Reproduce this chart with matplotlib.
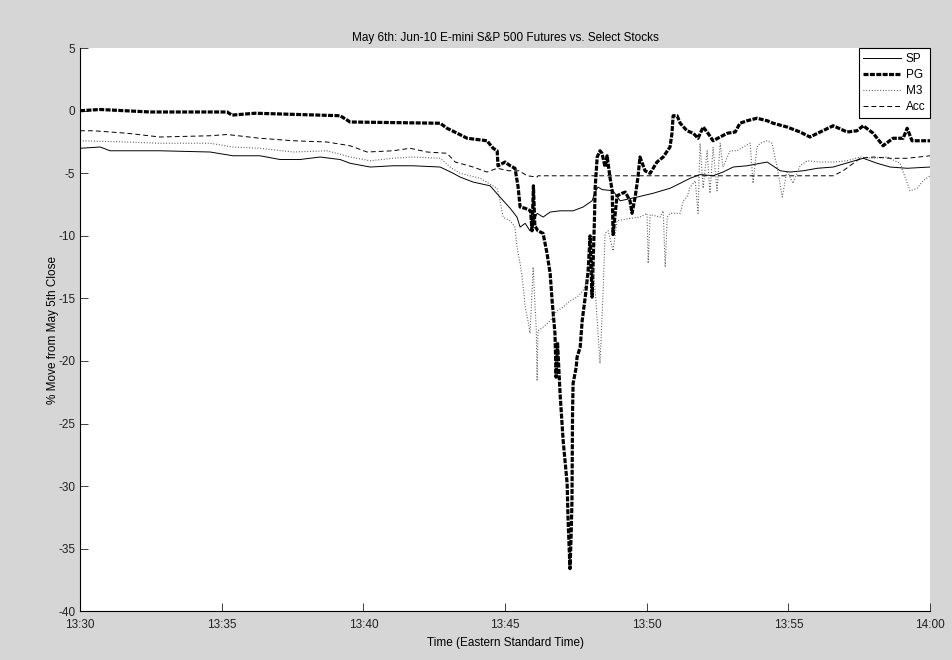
import matplotlib
matplotlib.use("Agg")
import matplotlib.pyplot as plt

plt.rcParams["font.family"] = ["Liberation Sans", "DejaVu Sans"]
plt.rcParams["axes.unicode_minus"] = False
plt.rcParams["lines.scale_dashes"] = False

# minutes after 13:30 and % move from May 5th close
pg_t = [0.00, 0.71, 2.47, 5.19, 5.36, 6.18, 9.18, 9.53, 12.71, 12.95, 13.31, 13.66, 14.36, 14.58,
        14.72, 14.75, 15.00, 15.18, 15.35, 15.46, 15.53, 15.71, 15.90, 15.95, 16.00, 16.05, 16.16,
        16.34, 16.48, 16.59, 16.66, 16.76, 16.80, 16.85, 16.94, 17.05, 17.19, 17.22, 17.29, 17.33,
        17.36, 17.38, 17.40, 17.51, 17.54, 17.65, 17.72, 17.85, 17.93, 18.00, 18.07, 18.15, 18.18,
        18.25, 18.35, 18.42, 18.53, 18.60, 18.70, 18.78, 18.81, 18.95, 19.13, 19.24, 19.41, 19.48,
        19.59, 19.69, 19.76, 19.94, 20.12, 20.36, 20.58, 20.82, 20.89, 20.93, 21.07, 21.18, 21.42,
        21.64, 21.81, 21.99, 22.16, 22.34, 22.59, 22.84, 23.12, 23.29, 23.54, 23.89, 24.25, 24.46,
        24.95, 25.41, 25.76, 26.12, 26.58, 27.07, 27.42, 27.64, 27.99, 28.34, 28.69, 29.05, 29.19,
        29.36, 30.00]
pg_v = [0.0, 0.1, -0.1, -0.1, -0.35, -0.2, -0.4, -0.9, -1.0, -1.4, -1.8, -2.2, -2.4, -3.0,
        -3.2, -4.4, -4.1, -4.4, -4.6, -6.1, -7.7, -7.8, -8.0, -9.6, -6.0, -9.2, -9.6,
        -9.8, -11.4, -13.0, -15.2, -17.8, -21.3, -18.5, -22.6, -26.4, -29.8, -32.5, -36.6, -34.0,
        -31.2, -24.2, -21.8, -20.5, -19.7, -18.9, -16.8, -14.5, -12.8, -10.0, -14.9, -9.0, -6.1,
        -3.7, -3.2, -3.4, -4.5, -3.6, -5.3, -6.4, -9.9, -6.8, -6.6, -6.5, -7.2, -8.2,
        -6.9, -5.3, -3.7, -4.8, -5.0, -4.1, -3.7, -2.9, -1.8, -0.4, -0.4, -1.0, -1.6,
        -1.8, -2.2, -1.3, -1.8, -2.4, -2.1, -1.8, -1.7, -1.0, -0.8, -0.6, -0.8, -1.0,
        -1.3, -1.7, -2.1, -1.7, -1.2, -1.7, -1.6, -1.2, -1.8, -2.8, -2.2, -2.2, -1.4,
        -2.4, -2.4]

sp_t = [0.00, 0.71, 1.06, 2.82, 4.59, 5.40, 6.35, 7.06, 7.76, 8.47, 9.18, 9.53, 10.24, 11.05,
        11.75, 12.71, 13.17, 13.41, 13.87, 14.47, 14.82, 15.18, 15.42, 15.53, 15.71, 15.88, 16.13,
        16.34, 16.59, 16.94, 17.40, 17.75, 18.07, 18.18, 18.28, 18.42, 18.81, 19.06, 19.66, 20.22,
        20.82, 21.18, 21.53, 21.88, 22.34, 22.69, 23.05, 23.54, 24.25, 24.71, 25.06, 25.52, 26.02,
        26.58, 27.18, 27.64, 28.13, 28.59, 29.19, 30.00]
sp_v = [-3.0, -2.9, -3.2, -3.2, -3.3, -3.6, -3.6, -3.9, -3.9, -3.7, -3.9, -4.2, -4.5, -4.4,
        -4.4, -4.5, -5.0, -5.3, -5.7, -6.0, -6.9, -7.8, -8.5, -9.3, -9.0, -9.6, -8.2,
        -8.5, -8.1, -8.0, -8.0, -7.7, -7.2, -6.5, -6.1, -6.3, -6.4, -7.2, -6.9, -6.6,
        -6.2, -5.8, -5.4, -5.1, -5.2, -4.9, -4.5, -4.4, -4.1, -4.8, -4.9, -4.8, -4.6,
        -4.5, -4.1, -3.8, -4.2, -4.5, -4.6, -4.5]

m3_t = [0.00, 1.66, 2.82, 4.59, 5.40, 6.35, 7.52, 8.72, 9.53, 10.24, 11.05, 11.75, 12.71, 13.06,
        13.41, 14.12, 14.72, 14.82, 14.93, 15.18, 15.35, 15.42, 15.53, 15.60, 15.64, 15.71, 15.81,
        15.88, 15.99, 16.10, 16.13, 16.16, 16.34, 16.59, 16.83, 17.05, 17.29, 17.54, 17.75, 17.89,
        18.11, 18.20, 18.35, 18.45, 18.53, 18.64, 18.81, 18.95, 19.41, 19.76, 20.01, 20.05, 20.12,
        20.47, 20.58, 20.65, 20.72, 20.82, 21.18, 21.29, 21.42, 21.53, 21.71, 21.81, 21.88, 21.99,
        22.13, 22.23, 22.34, 22.48, 22.59, 22.69, 22.94, 23.19, 23.40, 23.65, 23.75, 23.89, 24.00,
        24.25, 24.42, 24.60, 24.78, 24.95, 25.16, 25.41, 25.66, 26.12, 26.58, 27.07, 27.53, 27.99,
        28.48, 28.94, 29.29, 29.54, 29.75, 30.00]
m3_v = [-2.4, -2.5, -2.6, -2.6, -2.9, -3.0, -3.3, -3.2, -3.7, -4.0, -3.8, -3.7, -3.8, -4.5,
        -5.0, -5.4, -6.2, -7.2, -8.5, -8.8, -9.3, -10.9, -12.2, -13.3, -14.1, -15.7, -16.8,
        -17.8, -12.5, -17.5, -21.6, -17.6, -17.3, -16.8, -16.0, -15.7, -15.2, -14.9, -14.4, -13.6,
        -12.5, -15.0, -20.2, -15.0, -9.8, -9.6, -11.2, -8.8, -8.6, -8.5, -8.2, -12.2, -8.3,
        -8.5, -8.0, -12.5, -8.5, -8.2, -8.2, -7.2, -6.9, -6.1, -5.6, -8.2, -2.6, -6.2,
        -3.2, -6.6, -2.9, -6.4, -2.6, -4.5, -3.2, -3.2, -2.9, -2.6, -5.8, -2.9, -2.6,
        -2.4, -2.6, -4.5, -6.9, -4.8, -5.8, -4.4, -4.0, -4.1, -4.1, -4.0, -3.7, -3.8,
        -3.7, -4.2, -6.4, -6.2, -5.6, -5.2]

acc_t = [0.00, 0.46, 1.66, 2.82, 4.59, 5.19, 6.35, 7.52, 8.72, 9.53, 10.13, 11.05, 11.65, 12.25,
         12.95, 13.24, 13.87, 14.36, 14.72, 15.14, 15.49, 15.78, 16.13, 16.16, 26.58, 26.93, 27.53,
         27.99, 28.59, 29.19, 30.00]
acc_v = [-1.6, -1.6, -1.8, -2.1, -2.0, -1.9, -2.2, -2.4, -2.5, -2.8, -3.3, -3.2, -3.0, -3.3,
         -3.4, -4.1, -4.5, -4.9, -4.6, -4.8, -4.8, -5.2, -5.3, -5.2, -5.2, -4.8, -3.8,
         -3.7, -3.8, -3.8, -3.6]

x_ticks = [0, 5, 10, 15, 20, 25, 30]
x_labels = ["13:30", "13:35", "13:40", "13:45", "13:50", "13:55", "14:00"]
y_ticks = [-40, -35, -30, -25, -20, -15, -10, -5, 0, 5]

fig = plt.figure(figsize=(9.53, 6.6), dpi=100, facecolor="#d6d6d6")
ax = fig.add_axes([0.084, 0.074, 0.892, 0.853])

ax.plot(sp_t, sp_v, color="black", lw=0.7, label="SP")
ax.plot(pg_t, pg_v, color="black", lw=2.3, dashes=(3.6, 1.0), label="PG")
ax.plot(m3_t, m3_v, color="#555555", lw=0.8, dashes=(0.7, 1.3), label="M3")
ax.plot(acc_t, acc_v, color="black", lw=0.7, dashes=(3.5, 2.2), label="Acc")

ax.set_xlim(0, 30)
ax.set_ylim(-40, 5)
ax.set_xticks(x_ticks)
ax.set_xticklabels(x_labels)
ax.set_yticks(y_ticks)
ax.tick_params(direction="in", length=6, width=0.6, labelsize=8.5, colors="#222222")
ax.tick_params(axis="x", pad=6)
for s in ["top", "right"]:
    ax.spines[s].set_visible(False)
for s in ["left", "bottom"]:
    ax.spines[s].set_linewidth(0.8)

ax.set_title("May 6th: Jun-10 E-mini S&P 500 Futures vs. Select Stocks", fontsize=8.5, pad=5)
ax.set_xlabel("Time (Eastern Standard Time)", fontsize=8.5, labelpad=4)
ax.set_ylabel("% Move from May 5th Close", fontsize=8.5, labelpad=-1)

leg = ax.legend(loc="upper right", fontsize=8.5, fancybox=False, framealpha=1,
                edgecolor="black", borderaxespad=0, handlelength=3.2, handletextpad=0.4,
                labelspacing=0.35, borderpad=0.4)
leg.get_frame().set_linewidth(0.8)

fig.savefig("out.png", dpi=100, facecolor=fig.get_facecolor())
